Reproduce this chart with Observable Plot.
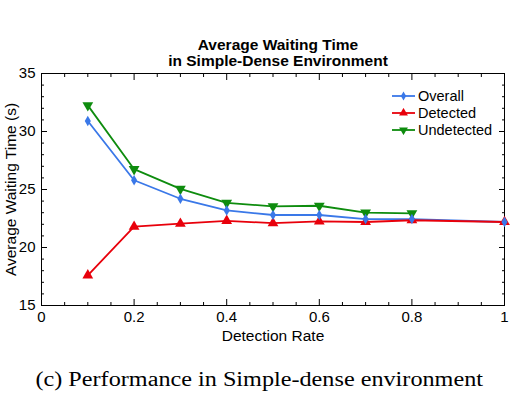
<!DOCTYPE html>
<html><head><meta charset="utf-8">
<script src="https://cdn.jsdelivr.net/npm/d3@7"></script>
<script src="https://cdn.jsdelivr.net/npm/@observablehq/plot@0.6"></script>
<style>
body{margin:0;background:#fff;}
#wrap{position:relative;width:518px;height:398px;overflow:hidden;background:#fff;font-family:"Liberation Sans",Arial,sans-serif;color:#000;}
#title{position:absolute;left:0;top:37px;width:556px;text-align:center;font-weight:bold;font-size:15.5px;line-height:16px;}
#chart{position:absolute;left:0;top:60px;}
#legend{position:absolute;left:392px;top:88px;font-size:14.5px;line-height:16.8px;}
#legend .row{display:flex;align-items:center;height:16.8px;}
#legend svg{margin-right:3px;}
#caption{position:absolute;left:0;top:367px;width:518px;text-align:center;font-family:"Liberation Serif","Times New Roman",serif;font-size:20px;line-height:24px;white-space:nowrap;transform:scaleX(1.21);transform-origin:258px 0;}
</style></head>
<body><div id="wrap">
<div id="title">Average Waiting Time<br>in Simple-Dense Environment</div>
<div id="chart"></div>
<div id="legend"></div>
<div id="caption">(c) Performance in Simple-dense environment</div>
</div>
<script>
// Data
const detectionRate = [0.1, 0.2, 0.3, 0.4, 0.5, 0.6, 0.7, 0.8, 1.0];
const undetectedRate = [0.1, 0.2, 0.3, 0.4, 0.5, 0.6, 0.7, 0.8];
const overall = [30.9, 25.8, 24.2, 23.2, 22.8, 22.8, 22.45, 22.45, 22.2];
const detected = [17.6, 21.8, 22.05, 22.3, 22.1, 22.25, 22.2, 22.35, 22.2];
const undetected = [32.25, 26.75, 25.05, 23.85, 23.55, 23.6, 23.0, 22.95];
const seriesNames = ["Overall", "Detected", "Undetected"];
const seriesColors = ["#3a78e8", "#e8000b", "#0e8c0e"];
const xTicks = [0, 0.2, 0.4, 0.6, 0.8, 1];
const xMinor = [0.05,0.1,0.15,0.25,0.3,0.35,0.45,0.5,0.55,0.65,0.7,0.75,0.85,0.9,0.95];
const yTicks = [15, 20, 25, 30, 35];
const yMinor = [16,17,18,19,21,22,23,24,26,27,28,29,31,32,33,34];

const rows = [
  ...detectionRate.map((x, i) => ({series: "Overall", x, y: overall[i]})),
  ...detectionRate.map((x, i) => ({series: "Detected", x, y: detected[i]})),
  ...undetectedRate.map((x, i) => ({series: "Undetected", x, y: undetected[i]}))
];
const symbolOf = {Overall: "diamond", Detected: "triangle", Undetected: "triangle"};
const rotateOf = {Overall: 0, Detected: 0, Undetected: 180};
const sizeOf = {Overall: 3.2, Detected: 4, Undetected: 4};
const colorOf = Object.fromEntries(seriesNames.map((s, i) => [s, seriesColors[i]]));

const blank = () => "";
const chart = Plot.plot({
  width: 518, height: 285,
  marginTop: 13, marginBottom: 40, marginLeft: 41, marginRight: 14,
  style: {fontFamily: "'Liberation Sans', Arial, sans-serif", fontSize: "15px", color: "#000", background: "transparent", overflow: "visible"},
  x: {domain: [0, 1]},
  y: {domain: [15, 35]},
  marks: [
    Plot.axisX(xMinor, {tickSize: -3, tickFormat: blank, label: null}),
    Plot.axisX(xMinor, {anchor: "top", tickSize: -3, tickFormat: blank, label: null}),
    Plot.axisX(xTicks, {tickSize: -6, tickPadding: 12, tickFormat: d => String(d), label: null}),
    Plot.axisX(xTicks, {anchor: "top", tickSize: -6, tickFormat: blank, label: null}),
    Plot.axisY(yMinor, {tickSize: -3, tickFormat: blank, label: null}),
    Plot.axisY(yMinor, {anchor: "right", tickSize: -3, tickFormat: blank, label: null}),
    Plot.axisY(yTicks, {tickSize: -6, tickPadding: 12, tickFormat: d => String(d), label: null}),
    Plot.axisY(yTicks, {anchor: "right", tickSize: -6, tickFormat: blank, label: null}),
    Plot.axisX({ticks: [], label: "Detection Rate", labelAnchor: "center", labelOffset: 35, labelArrow: "none", fontSize: 15.5, tickSize: 0}),
    Plot.axisY({ticks: [], label: "Average Waiting Time (s)", labelAnchor: "center", labelOffset: 37, labelArrow: "none", fontSize: 15.5, tickSize: 0}),
    Plot.frame({stroke: "#000", strokeWidth: 1}),
    Plot.line(rows, {x: "x", y: "y", z: "series", stroke: d => colorOf[d.series], strokeWidth: 1.8}),
    Plot.dot(rows, {x: "x", y: "y", symbol: d => symbolOf[d.series], fill: d => colorOf[d.series], stroke: "none", r: d => sizeOf[d.series], rotate: d => rotateOf[d.series]})
  ],
  symbol: {type: "identity"},
  r: {type: "identity"}
});
document.getElementById("chart").appendChild(chart);

// Legend
const legend = d3.select("#legend");
seriesNames.forEach((name, i) => {
  const row = legend.append("div").attr("class", "row");
  const svg = row.append("svg").attr("width", 23).attr("height", 10);
  svg.append("line").attr("x1", 0).attr("x2", 23).attr("y1", 5).attr("y2", 5)
    .attr("stroke", seriesColors[i]).attr("stroke-width", 1.8);
  const sym = name === "Overall" ? d3.symbolDiamond : d3.symbolTriangle;
  const size = name === "Overall" ? 24 : 34;
  svg.append("path").attr("d", d3.symbol(sym, size)())
    .attr("transform", `translate(11.5,5) rotate(${name === "Undetected" ? 180 : 0})`)
    .attr("fill", seriesColors[i]);
  row.append("span").text(name);
});
</script>
</body></html>
